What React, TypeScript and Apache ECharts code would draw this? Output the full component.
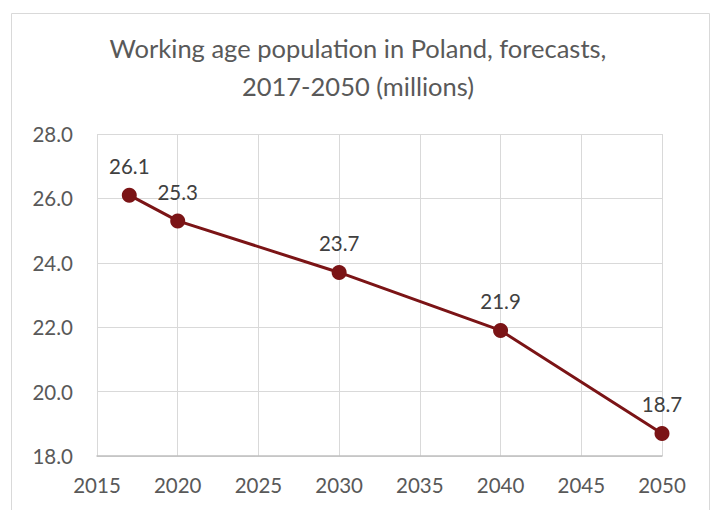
import React, { useEffect, useRef } from "react";
import * as echarts from "echarts";

const years = [2017, 2020, 2030, 2040, 2050];
const values = [26.1, 25.3, 23.7, 21.9, 18.7];
const titleText = "Working age population in Poland, forecasts,\n2017-2050 (millions)";

export default function App() {
  const ref = useRef<HTMLDivElement>(null);
  useEffect(() => {
    document.body.style.margin = "0";
    const chart = echarts.init(ref.current!, undefined, { renderer: "svg" });
    const font = "Lato, 'Noto Sans', sans-serif";
    chart.setOption({
      animation: false,
      backgroundColor: "#ffffff",
      title: {
        text: titleText,
        left: "center",
        top: 24,
        textStyle: { fontFamily: font, fontSize: 25.5, fontWeight: "normal", color: "#595959", lineHeight: 38 },
      },
      graphic: [
        {
          type: "rect",
          shape: { x: 11.5, y: 13.5, width: 698, height: 520 },
          style: { fill: "none", stroke: "#d9d9d9", lineWidth: 1 },
          silent: true,
        },
      ],
      grid: { left: 97, right: 54, top: 134, bottom: 54 },
      xAxis: {
        type: "value",
        min: 2015,
        max: 2050,
        interval: 5,
        axisLine: { show: true, lineStyle: { color: "#bfbfbf", width: 1.5 } },
        axisTick: { show: false },
        splitLine: { show: true, lineStyle: { color: "#d9d9d9", width: 1 } },
        axisLabel: {
          fontFamily: font,
          fontSize: 20.5,
          color: "#595959",
          margin: 18,
          formatter: (v: number) => String(v),
        },
      },
      yAxis: {
        type: "value",
        min: 18,
        max: 28,
        interval: 2,
        axisLine: { show: false },
        axisTick: { show: false },
        splitLine: { show: true, lineStyle: { color: "#d9d9d9", width: 1 } },
        axisLabel: {
          fontFamily: font,
          fontSize: 20.5,
          color: "#595959",
          margin: 24,
          formatter: (v: number) => v.toFixed(1),
        },
      },
      series: [
        {
          type: "line",
          data: years.map((y, i) => [y, values[i]]),
          symbol: "circle",
          symbolSize: 15,
          lineStyle: { color: "#7b1416", width: 3 },
          itemStyle: { color: "#7b1416" },
          label: {
            show: true,
            position: "top",
            distance: 11,
            fontFamily: font,
            fontSize: 20.5,
            color: "#404040",
            formatter: (p: any) => p.value[1].toFixed(1),
          },
        },
      ],
    });
    return () => chart.dispose();
  }, []);
  return <div ref={ref} style={{ width: 716, height: 510 }} />;
}
